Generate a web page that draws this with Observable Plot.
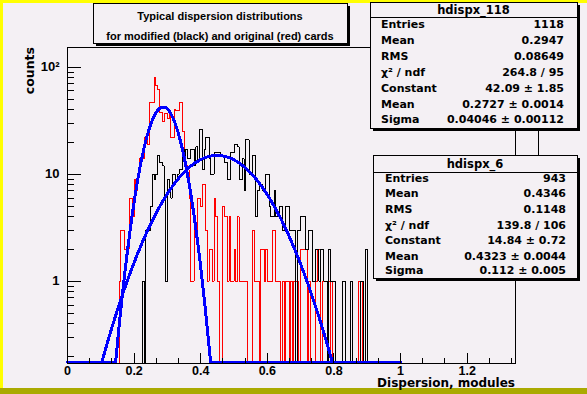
<!DOCTYPE html>
<html><head><meta charset="utf-8">
<script src="https://cdn.jsdelivr.net/npm/d3@7"></script>
<script src="https://cdn.jsdelivr.net/npm/@observablehq/plot@0.6"></script>
<style>
html,body{margin:0;padding:0;background:#f4f0f4;}
#wrap{position:relative;width:587px;height:394px;overflow:hidden;}
svg{shape-rendering:crispEdges;}
svg text{shape-rendering:auto;}
</style></head><body><div id="wrap"></div>
<script>
// ---------- data ----------
const binWidth = 0.005;
const redStart = 0.155;   // hdispx_118 (original cards)
const redCounts = [1,3,3,2,2,2,6,6,4,9,7,10,14,14,14,22,22,19,47,47,47,81,68,62,38,38,31,37,37,33,36,22,22,40,39,39,47,47,25,12,12,11,6,1,1,4,3,6,6,5,8,8,3,1,2,2,1,6,4,1,0,0,5,4,4,1,4,1,1,2,1,4,1,1,1,1,1,0,0,0,3,1,1,1,0,2,2,1,2,1,1,1,3,3,1,1,1,0,1,0,1,1,0,1,0,1,1,1,0,2,2,2,2,0,1,0,0,0,1,2,2,0,1,1,1,1,1,0,1,1,0,0,0,0,0,0,0,0,0,0,0,0,0,0,1,1];
const blackStart = 0.225; // hdispx_6 (modified cards)
const blackCounts = [1,0,3,3,3,5,10,9,10,15,13,13,12,6,1,9,7,6,10,10,9,10,11,11,17,13,17,14,14,17,17,12,18,13,26,26,11,17,22,22,14,10,10,16,16,16,16,15,15,13,13,9,9,16,16,19,19,18,9,9,14,7,21,21,10,10,15,15,4,7,8,8,7,7,10,10,5,4,4,7,4,4,5,5,3,3,5,5,3,3,3,3,0,3,3,4,4,4,2,2,3,3,1,1,2,2,1,2,2,1,1,0,2,1,1,1,0,0,0,0,1,1,0,0,0,1,0,0,0,0,0,1,1,0,2];

// fitted gaussians as they appear on the drawn axis
const fitNames = ["hdispx_118", "hdispx_6"];
const curveConstant = [42.5, 15.0];
const curveMean = [0.287, 0.449];
const curveSigma = [0.043, 0.116];
const curveRange = [0, 1];

const xMajorTicks = [0, 0.2, 0.4, 0.6, 0.8, 1, 1.2];
const xTickLabels = ["0", "0.2", "0.4", "0.6", "0.8", "1", "1.2"];
const xMinorTicks = [0.0667, 0.1333, 0.2667, 0.3333, 0.4667, 0.5333, 0.6667, 0.7333, 0.8667, 0.9333, 1.0667, 1.1333, 1.2667, 1.3333];
const yMajorTicks = [1, 10, 100];
const yTickLabels = ["1", "10", "10\u00B2"];
const yMinorTicks = [0.2,0.3,0.4,0.5,0.6,0.7,0.8,0.9,2,3,4,5,6,7,8,9,20,30,40,50,60,70,80,90];

const titleLines = ["Typical dispersion distributions", "for modified (black) and original (red) cards"];
const xTitle = "Dispersion, modules";
const yTitle = "counts";
const statLabels = ["Entries", "Mean", "RMS", "\u03C7\u00B2 / ndf", "Constant", "Mean", "Sigma"];
const stats118 = ["1118", "0.2947", "0.08649", "264.8 / 95", "42.09 \u00B1 1.85", "0.2727 \u00B1 0.0014", "0.04046 \u00B1 0.00112"];
const stats6 = ["943", "0.4346", "0.1148", "139.8 / 106", "14.84 \u00B1 0.72", "0.4323 \u00B1 0.0044", "0.112 \u00B1 0.005"];

// ---------- scales ----------
const xDomain = [0, 1.345];
const yMin = 0.1707, yMax = 152.8;
const fitFloor = 0.175;
const plotW = 448, plotH = 316;
const decadePx = plotH / Math.log10(yMax / yMin);
const yUp = (px) => yMin * Math.pow(10, px / decadePx);     // tick end, px above bottom
const xIn = (px) => px * (xDomain[1] - xDomain[0]) / plotW; // tick end, px right of left edge

function stepPoints(start, counts) {
  const pts = [{x: start, y: yMin}];
  counts.forEach((c, i) => pts.push({x: start + i * binWidth, y: Math.max(c, yMin)}));
  pts.push({x: start + counts.length * binWidth, y: yMin});
  return pts;
}
const redPts = stepPoints(redStart, redCounts);
const blackPts = stepPoints(blackStart, blackCounts);

const fitPts = [];
fitNames.forEach((name, k) => {
  const n = 400;
  for (let i = 0; i <= n; i++) {
    const x = curveRange[0] + (curveRange[1] - curveRange[0]) * i / n;
    const v = curveConstant[k] * Math.exp(-0.5 * Math.pow((x - curveMean[k]) / curveSigma[k], 2));
    fitPts.push({name, x, y: Math.max(v, fitFloor)});
  }
});

const tickFont = {fontFamily: "Liberation Sans, Arial, sans-serif", fontSize: 12.5, fontWeight: "bold", fill: "#000"};

const chart = Plot.plot({
  width: 587, height: 394,
  marginLeft: 67, marginRight: 72, marginTop: 47, marginBottom: 31,
  style: {background: "transparent", overflow: "visible"},
  x: {domain: xDomain, label: null},
  y: {type: "log", domain: [yMin, yMax], label: null},
  marks: [
    Plot.line(redPts, {x: "x", y: "y", curve: "step-after", stroke: "#ff0000", strokeWidth: 1}),
    Plot.line(blackPts, {x: "x", y: "y", curve: "step-after", stroke: "#000000", strokeWidth: 1}),
    Plot.line(fitPts, {x: "x", y: "y", z: "name", stroke: "#0000ff", strokeWidth: 3}),
    Plot.frame({stroke: "#000"}),
    Plot.ruleX(xMajorTicks, {x: (d) => d, y1: yMin, y2: yUp(10), stroke: "#000"}),
    Plot.ruleX(xMinorTicks, {x: (d) => d, y1: yMin, y2: yUp(5), stroke: "#000"}),
    Plot.ruleY(yMajorTicks, {y: (d) => d, x1: 0, x2: xIn(14), stroke: "#000"}),
    Plot.ruleY(yMinorTicks, {y: (d) => d, x1: 0, x2: xIn(7), stroke: "#000"}),
    Plot.axisX({ticks: xMajorTicks, tickSize: 0, tickPadding: 3, tickFormat: (d) => xTickLabels[xMajorTicks.indexOf(d)], ...tickFont}),
    Plot.axisY({ticks: yMajorTicks, tickSize: 0, tickPadding: 8, tickFormat: (d) => yTickLabels[yMajorTicks.indexOf(d)], ...tickFont, fontSize: 13})
  ]
});

document.getElementById("wrap").appendChild(chart);

// ---------- decorations (canvas border, titles, panes) ----------
const svg = d3.select(chart);
const bg = "#f4f0f4";
const deco = svg.append("g").attr("text-anchor", "start");
// raised canvas border
deco.append("rect").attr("x", 0).attr("y", 0).attr("width", 587).attr("height", 3).attr("fill", "#ffff00");
deco.append("rect").attr("x", 0).attr("y", 0).attr("width", 3).attr("height", 394).attr("fill", "#ffff00");
deco.append("rect").attr("x", 0).attr("y", 388).attr("width", 587).attr("height", 6).attr("fill", "#aaaa00");

// axis titles
deco.append("text").attr("x", 515).attr("y", 386.5).attr("text-anchor", "end")
  .attr("font-family", "DejaVu Sans, sans-serif").attr("font-size", 12).attr("font-weight", "bold").text(xTitle);
deco.append("text").attr("transform", "translate(33.5,47) rotate(-90)").attr("text-anchor", "end")
  .attr("font-family", "DejaVu Sans, sans-serif").attr("font-size", 12.5).attr("font-weight", "bold").text(yTitle);

function pave(x0, y0, x1, y1) {
  deco.append("rect").attr("x", x0 + 3).attr("y", y0 + 3).attr("width", x1 - x0).attr("height", y1 - y0).attr("fill", "#000");
  deco.append("rect").attr("x", x0 + 0.5).attr("y", y0 + 0.5).attr("width", x1 - x0).attr("height", y1 - y0)
    .attr("fill", bg).attr("stroke", "#000").attr("stroke-width", 1);
}

// title
pave(93, 3, 347, 43);
const titleBase = [19.6, 39.5];
titleLines.forEach((t, i) => {
  deco.append("text").attr("x", 220).attr("y", titleBase[i]).attr("text-anchor", "middle")
    .attr("font-family", "Liberation Sans, Arial, sans-serif").attr("font-size", 11).attr("font-weight", "bold").text(t);
});

// connector line between stat boxes
deco.append("line").attr("x1", 538.5).attr("x2", 538.5).attr("y1", 131).attr("y2", 155).attr("stroke", "#000");

function statBox(box, name, values) {
  pave(box.x0, box.y0, box.x1, box.y1);
  deco.append("line").attr("x1", box.x0).attr("x2", box.x1).attr("y1", box.sep + 0.5).attr("y2", box.sep + 0.5).attr("stroke", "#000");
  deco.append("text").attr("x", (box.x0 + box.x1) / 2).attr("y", box.head).attr("text-anchor", "middle")
    .attr("font-family", "DejaVu Sans, sans-serif").attr("font-size", 11.5).attr("font-weight", "bold").text(name);
  statLabels.forEach((lab, i) => {
    deco.append("text").attr("x", box.lx).attr("y", box.rows[i]).attr("text-anchor", "start")
      .attr("font-family", "DejaVu Sans, sans-serif").attr("font-size", 11).attr("font-weight", "bold").text(lab);
    deco.append("text").attr("x", box.vx).attr("y", box.rows[i]).attr("text-anchor", "end")
      .attr("font-family", "DejaVu Sans, sans-serif").attr("font-size", 11).attr("font-weight", "bold").text(values[i]);
  });
}
statBox({x0: 370, y0: 2, x1: 577, y1: 128, sep: 17, head: 13.5, lx: 381, vx: 564,
  rows: [28.4, 44.2, 60.1, 75.9, 91.8, 107.6, 123.3]}, fitNames[0], stats118);
statBox({x0: 373, y0: 155, x1: 577, y1: 278, sep: 172, head: 168.3, lx: 385, vx: 566,
  rows: [181.7, 197.3, 213.2, 228.8, 244.3, 259.8, 274.3]}, fitNames[1], stats6);
</script></body></html>
